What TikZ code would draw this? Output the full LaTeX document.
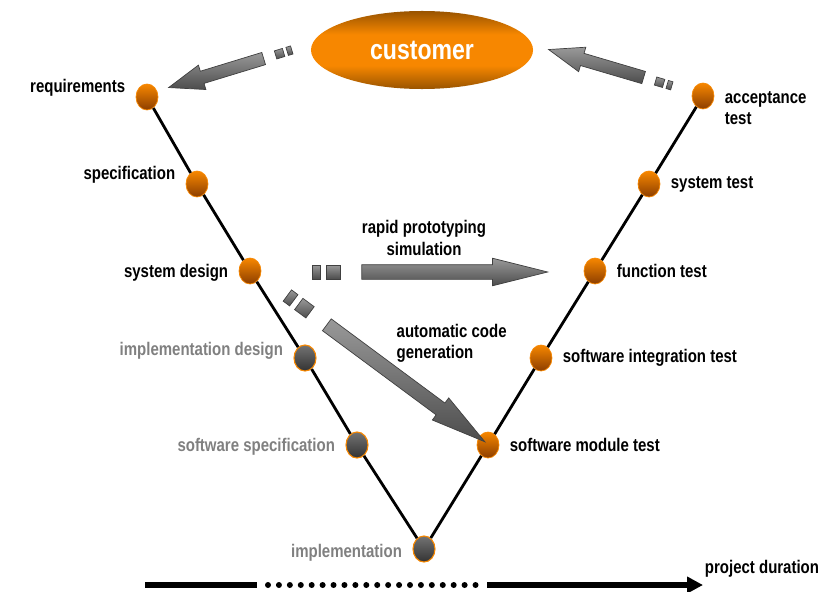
\documentclass[tikz,border=0pt]{standalone}
\usepackage{fontspec}
\setmainfont{Liberation Sans}[FakeStretch=0.82]
\usetikzlibrary{arrows.meta, positioning, shapes.geometric, shapes.arrows, calc}

\definecolor{vorange}{RGB}{247,135,0}
\definecolor{vdarkorange}{RGB}{140,62,0}
\definecolor{vlabelgray}{RGB}{128,128,128}
\colorlet{vedgeorange}{vorange!62!black}

% orange in the middle, darker at top and bottom
\pgfdeclareverticalshading{custshade}{100bp}{color(0bp)=(vedgeorange); color(25bp)=(vedgeorange);
  color(40bp)=(vorange); color(60bp)=(vorange); color(75bp)=(vedgeorange); color(100bp)=(vedgeorange)}

\begin{document}
\begin{tikzpicture}[x=0.025cm, y=-0.025cm, >=Stealth,
  every node/.style={font=\bfseries\fontsize{13}{15}\selectfont},
  done/.style={ellipse, minimum width=0.55cm, minimum height=0.65cm, inner sep=0pt,
    draw=vorange, line width=0.5pt, top color=vorange, middle color=vorange!85!yellow, bottom color=vdarkorange},
  todo/.style={ellipse, minimum width=0.55cm, minimum height=0.65cm, inner sep=0pt,
    draw=vorange, line width=0.8pt, top color=black!55, middle color=black!60, bottom color=black!80},
  customer/.style={ellipse, minimum width=5.55cm, minimum height=1.95cm, inner sep=0pt,
    shading=custshade, text=white, font=\bfseries\fontsize{20}{22}\selectfont},
  lbl/.style={inner sep=1pt},
  graylbl/.style={lbl, text=vlabelgray},
  node distance=0.22cm,
  vline/.style={line width=2pt, black},
  bigarrow/.style={single arrow, draw=black!75, line width=0.5pt, top color=black!40, bottom color=black!70,
    inner xsep=0pt, inner ysep=0.175cm, single arrow head extend=0.16cm, single arrow head indent=0pt},
  smallarrow/.style={bigarrow, inner ysep=0.15cm, single arrow head extend=0.16cm},
  dashbox/.style={rectangle, draw=black!75, line width=0.5pt, top color=black!40, bottom color=black!70, inner sep=0pt},
  duration/.style={line width=0.13cm, black}]

\newcommand{\dashedArrow}[6]{
  % #1 = shaft start, #2 = tip, #3 = name, #4 = arrow style, #5 = tip angle, #6 = dash scale
  \path let \p1=($(#2)-(#1)$), \n1={atan2(\y1,\x1)}, \n2={veclen(\x1,\y1)} in
    node[#4, single arrow tip angle=#5, minimum height=\n2, rotate=\n1] (#3) at ($(#1)!0.5!(#2)$) {}
    node[dashbox, minimum width=#6*0.35cm, minimum height=#6*0.35cm, rotate=\n1] at ($(#1)!-#6*0.33cm!(#2)$) {}
    node[dashbox, minimum width=#6*0.2cm, minimum height=#6*0.35cm, rotate=\n1] at ($(#1)!-#6*0.76cm!(#2)$) {};
}

\useasboundingbox (0,0) rectangle (832,591);

% the customer on top
\node[customer] (cust) at (422,50) {customer};

% left leg of the V
\node[done] (req) at (147,97) {};
\node[done] (spec) at (197,184) {};
\node[done] (sysd) at (250,271) {};
\node[todo] (impd) at (305,358) {};
\node[todo] (swspec) at (357,445) {};
\node[todo] (impl) at (424,549) {};

% right leg of the V
\node[done] (swmod) at (488,445) {};
\node[done] (swint) at (541,358) {};
\node[done] (func) at (595,271) {};
\node[done] (syst) at (649,184) {};
\node[done] (accept) at (703,96) {};

\foreach \a/\b in {req/spec, spec/sysd, sysd/impd, impd/swspec, swspec/impl,
                   impl/swmod, swmod/swint, swint/func, func/syst, syst/accept}
  \draw[vline] (\a) -- (\b);

% labels of the phases
\node[lbl, left=of req, yshift=0.22cm] (reqlbl) {requirements};
\node[lbl, left=of spec, yshift=0.22cm] (speclbl) {specification};
\node[lbl, left=of sysd, yshift=-0.05cm] (sysdlbl) {system design};
\node[graylbl, left=of impd, yshift=0.17cm] (impdlbl) {implementation design};
\node[graylbl, left=of swspec, yshift=-0.05cm] (swspeclbl) {software specification};
\node[graylbl, left=of impl, yshift=-0.1cm] (impllbl) {implementation};

\node[lbl, right=of swmod] (swmodlbl) {software module test};
\node[lbl, right=of swint] (swintlbl) {software integration test};
\node[lbl, right=of func] (funclbl) {function test};
\node[lbl, right=of syst] (systlbl) {system test};
\node[lbl, right=of accept, align=left, yshift=-0.3cm] (acceptlbl) {acceptance\\test};

% big gray arrows
\coordinate (custleft) at (272,56);
\coordinate (reqin) at (177,85);
\coordinate (acceptout) at (652,80);
\coordinate (custright) at (557,52);
\coordinate (protostart) at (347,272);
\coordinate (protoend) at (533,272);
\coordinate (codestart) at (315,316);
\coordinate (codeend) at (473,433);

\dashedArrow{custleft}{reqin}{toreq}{smallarrow}{40}{0.6}
\dashedArrow{acceptout}{custright}{tocust}{smallarrow}{40}{0.6}
\dashedArrow{protostart}{protoend}{proto}{bigarrow}{28}{1}
\dashedArrow{codestart}{codeend}{autocode}{bigarrow}{28}{1}

\node[lbl, align=center] (protolbl) at (424,238) {rapid prototyping\\simulation};
\node[lbl, align=left, anchor=west] (codelbl) at (395,343) {automatic code\\generation};

% time axis at the bottom
\coordinate (dur0) at (145,585);
\coordinate (dur1) at (257,585);
\coordinate (dur2) at (268,585);
\coordinate (dur3) at (480,585);
\coordinate (dur4) at (487,585);
\coordinate (dur5) at (703,585);
\draw[duration] (dur0) -- (dur1);
\draw[duration, line width=0.15cm, line cap=round, dash pattern=on 0pt off 0.273cm] (dur2) -- (dur3);
\draw[duration, -{Triangle[length=0.4cm, width=0.4cm]}] (dur4) -- (dur5);
\node[lbl] (durlbl) at (762,569) {project duration};

\end{tikzpicture}
\end{document}
